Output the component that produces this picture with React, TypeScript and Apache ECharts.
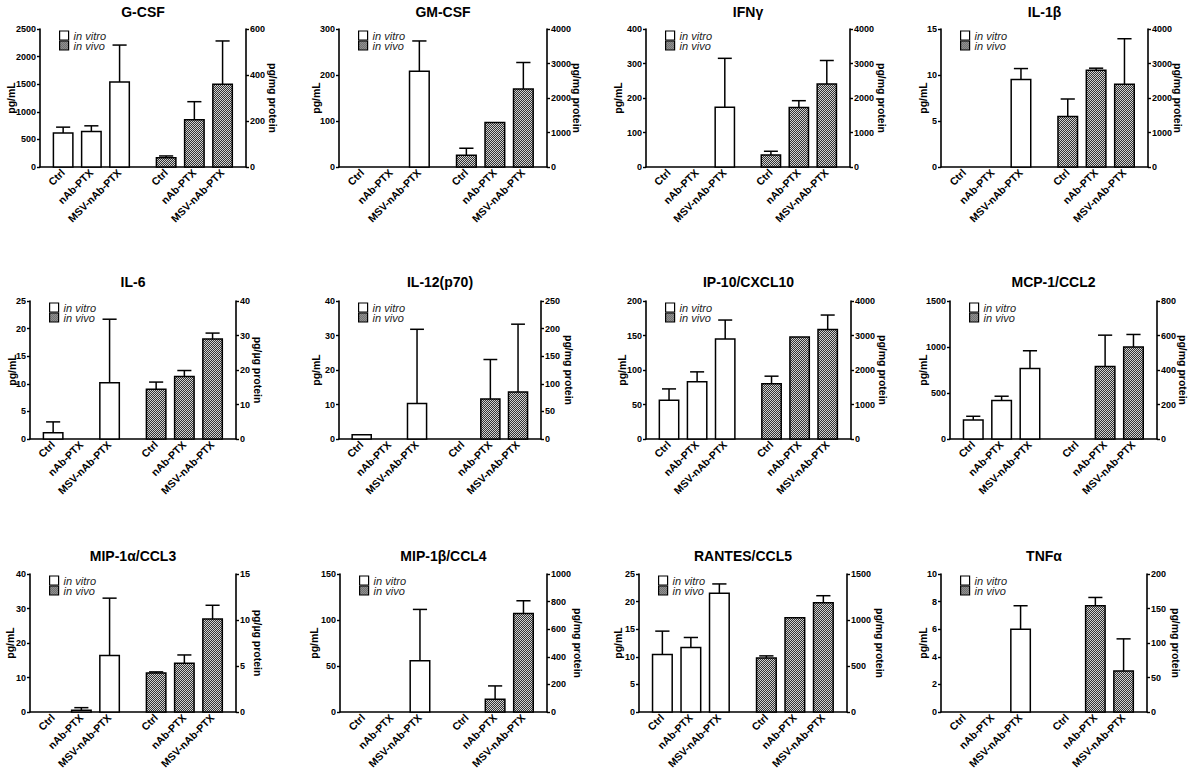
import React, { useEffect, useRef } from "react";
import * as echarts from "echarts";

// ---------------- data ----------------
const cytokines = [
  "G-CSF", "GM-CSF", "IFNγ", "IL-1β",
  "IL-6", "IL-12(p70)", "IP-10/CXCL10", "MCP-1/CCL2",
  "MIP-1α/CCL3", "MIP-1β/CCL4", "RANTES/CCL5", "TNFα",
];
const groups = ["Ctrl", "nAb-PTX", "MSV-nAb-PTX"];
const legendNames = ["in vitro", "in vivo"];

// in vitro (left axis, pg/mL): mean and mean+SD
const inVitroMean = [
  [615, 643, 1541], [0, 0, 208], [0, 0, 173], [0, 0, 9.5],
  [1.15, 0, 10.2], [1.2, 0, 10.3], [56, 83, 145], [207, 418, 766],
  [0, 0.5, 16.4], [0, 0, 55.6], [10.4, 11.7, 21.5], [0, 0, 6.0],
];
const inVitroUpper = [
  [722, 746, 2209], [0, 0, 274], [0, 0, 315], [0, 0, 10.7],
  [3.1, 0, 21.7], [1.2, 0, 31.8], [72.6, 97.3, 172.4], [247, 465, 959],
  [0, 1.26, 33], [0, 0, 111.5], [14.65, 13.5, 23.2], [0, 0, 7.7],
];
// in vivo (right axis, pg/mg or pg/µg protein): mean and mean+SD
const inVivoMean = [
  [40, 205, 360], [340, 1291, 2262], [350, 1728, 2408], [1466, 2806, 2398],
  [14.4, 18.1, 29.0], [0, 72.6, 85.3], [1598, 2954, 3177], [0, 420, 533],
  [4.25, 5.3, 10.1], [0, 92, 714], [588, 1024, 1188], [0, 154, 59.6],
];
const inVivoUpper = [
  [48, 284, 548], [544, 1311, 3029], [456, 1922, 3087], [1971, 2864, 3718],
  [16.5, 19.85, 30.7], [0, 144, 208], [1821, 2954, 3593], [0, 602, 606],
  [4.36, 6.2, 11.6], [0, 189, 806], [610, 1024, 1264], [0, 166, 106],
];

// axis scales
const leftMax = [2500, 300, 400, 15, 25, 40, 200, 1500, 40, 150, 25, 10];
const leftStep = [500, 100, 100, 5, 5, 10, 50, 500, 10, 50, 5, 2];
const rightMax = [600, 4000, 4000, 4000, 40, 250, 4000, 800, 15, 1000, 1500, 200];
const rightStep = [200, 1000, 1000, 1000, 10, 50, 1000, 200, 5, 200, 500, 50];
const leftUnit = "pg/mL";
const rightUnit = [
  "pg/mg protein", "pg/mg protein", "pg/mg protein", "pg/mg protein",
  "pg/µg protein", "pg/mg protein", "pg/mg protein", "pg/mg protein",
  "pg/µg protein", "pg/mg protein", "pg/mg protein", "pg/mg protein",
];

// category positions on the x scale
const xVitro = [0, 1, 2];
const xVivo = [3.65, 4.65, 5.65];
const X_MIN = -0.82;
const X_MAX = 6.48;

// ---------------- layout ----------------
const gridLeft = [40, 339, 646, 941, 30, 339, 646, 950, 30, 340, 639, 941];
const gridRight = [246, 547, 850, 1148, 236, 541, 851, 1157, 236, 547, 847, 1147];
const gridTop = [29, 29, 29, 29, 301, 301, 301, 301, 574, 574, 574, 574];
const GRID_H = 138;
const titleY = [12, 282, 556];
const leftNameOff = [30, 24, 29, 19, 19, 24, 25, 28, 21, 27, 22, 19];
const rightNameOff = [27, 30, 32, 30, 22, 28, 32, 26, 22, 31, 33, 29];

const FONT = "Arial, 'Liberation Sans', Helvetica, sans-serif";

function makeHatch(): any {
  const c = document.createElement("canvas");
  c.width = 2;
  c.height = 2;
  const ctx = c.getContext("2d")!;
  ctx.fillStyle = "#333333";
  ctx.fillRect(0, 0, 2, 2);
  ctx.fillStyle = "#d0d0d0";
  ctx.fillRect(0, 0, 1, 1);
  ctx.fillRect(1, 1, 1, 1);
  return { image: c, repeat: "repeat", imageWidth: 2, imageHeight: 2 };
}

function makeRender(fill: any) {
  return (_params: any, api: any) => {
    const x = api.value(0) as number;
    const v = api.value(1) as number;
    const up = api.value(2) as number;
    if (!(v > 0)) return null;
    const p0 = api.coord([x, 0]);
    const p1 = api.coord([x, v]);
    const p2 = api.coord([x, up]);
    const w = api.size([0.69, 0])[0];
    const cap = api.size([0.5, 0])[0];
    const children: any[] = [
      {
        type: "rect",
        shape: { x: p0[0] - w / 2, y: p1[1], width: w, height: p0[1] - p1[1] },
        style: { fill, stroke: "#000", lineWidth: 1.5 },
      },
    ];
    if (p1[1] - p2[1] > 0.8) {
      children.push({
        type: "line",
        shape: { x1: p0[0], y1: p1[1], x2: p0[0], y2: p2[1] },
        style: { stroke: "#000", lineWidth: 1.5 },
      });
      children.push({
        type: "line",
        shape: { x1: p0[0] - cap / 2, y1: p2[1], x2: p0[0] + cap / 2, y2: p2[1] },
        style: { stroke: "#000", lineWidth: 1.5 },
      });
    }
    return { type: "group", children };
  };
}

export default function App() {
  const ref = useRef<HTMLDivElement>(null);

  useEffect(() => {
    if (!ref.current) return;
    const chart = echarts.init(ref.current, undefined, { renderer: "svg" });
    const hatch = makeHatch();
    const xAll = [...xVitro, ...xVivo];

    const grid: any[] = [];
    const xAxis: any[] = [];
    const yAxis: any[] = [];
    const series: any[] = [];
    const legend: any[] = [];
    const title: any[] = [];

    const axisLineStyle = { color: "#000", width: 1.6 };

    cytokines.forEach((name, i) => {
      const width = gridRight[i] - gridLeft[i];
      grid.push({
        left: gridLeft[i],
        top: gridTop[i],
        width,
        height: GRID_H,
        containLabel: false,
        outerBoundsMode: "none",
      });
      title.push({
        text: name,
        left: gridLeft[i] + width / 2,
        top: titleY[Math.floor(i / 4)],
        textAlign: "center",
        textVerticalAlign: "middle",
        padding: 0,
        textStyle: { fontFamily: FONT, fontWeight: "bold", fontSize: 14, color: "#000" },
      });
      xAxis.push({
        type: "value",
        gridIndex: i,
        min: X_MIN,
        max: X_MAX,
        splitLine: { show: false },
        axisTick: { show: false },
        axisLine: { show: true, onZero: false, lineStyle: axisLineStyle },
        axisLabel: {
          customValues: xAll,
          rotate: 45,
          margin: 4,
          fontFamily: FONT,
          fontWeight: "bold",
          fontSize: 10.5,
          color: "#000",
          formatter: (val: number) => {
            let best = 0;
            xAll.forEach((p, k) => {
              if (Math.abs(p - val) < Math.abs(xAll[best] - val)) best = k;
            });
            return groups[best % 3];
          },
        },
      });
      const yCommon = {
        type: "value",
        gridIndex: i,
        min: 0,
        nameLocation: "middle",
        nameMoveOverlap: false,
        nameTextStyle: { fontFamily: FONT, fontWeight: "bold", fontSize: 10.5, color: "#000" },
        axisLine: { show: true, onZero: false, lineStyle: axisLineStyle },
        axisTick: { show: true, inside: false, length: 3, lineStyle: { color: "#000", width: 1.4 } },
        axisLabel: {
          fontFamily: FONT,
          fontWeight: "bold",
          fontSize: 9,
          color: "#000",
          margin: 4,
          formatter: (v: number) => String(v),
        },
        splitLine: { show: false },
      };
      yAxis.push({
        ...yCommon,
        position: "left",
        max: leftMax[i],
        interval: leftStep[i],
        name: leftUnit,
        nameRotate: 90,
        nameGap: leftNameOff[i] - 6,
      });
      yAxis.push({
        ...yCommon,
        position: "right",
        max: rightMax[i],
        interval: rightStep[i],
        name: rightUnit[i],
        nameRotate: -90,
        nameGap: rightNameOff[i] - 6,
      });
      series.push({
        type: "custom",
        name: legendNames[0],
        coordinateSystem: "cartesian2d",
        xAxisIndex: i,
        yAxisIndex: 2 * i,
        silent: true,
        clip: false,
        itemStyle: { color: "#fff", borderColor: "#000" },
        encode: { x: 0, y: 1 },
        data: xVitro.map((x, j) => [x, inVitroMean[i][j], inVitroUpper[i][j]]),
        renderItem: makeRender("#fff"),
      });
      series.push({
        type: "custom",
        name: legendNames[1],
        coordinateSystem: "cartesian2d",
        xAxisIndex: i,
        yAxisIndex: 2 * i + 1,
        silent: true,
        clip: false,
        itemStyle: { color: hatch, borderColor: "#000" },
        encode: { x: 0, y: 1 },
        data: xVivo.map((x, j) => [x, inVivoMean[i][j], inVivoUpper[i][j]]),
        renderItem: makeRender(hatch),
      });
      legend.push({
        left: gridLeft[i] + 19,
        top: gridTop[i] + 1,
        orient: "vertical",
        padding: 0,
        itemWidth: 9,
        itemHeight: 9,
        itemGap: -1,
        icon: "rect",
        selectedMode: false,
        textStyle: { fontFamily: FONT, fontStyle: "italic", fontSize: 11, color: "#222" },
        data: [
          { name: legendNames[0], itemStyle: { color: "#fff", borderColor: "#000", borderWidth: 1.2 } },
          { name: legendNames[1], itemStyle: { color: hatch, borderColor: "#000", borderWidth: 1.2 } },
        ],
      });
    });

    chart.setOption({
      animation: false,
      backgroundColor: "#fff",
      textStyle: { fontFamily: FONT },
      title,
      grid,
      xAxis,
      yAxis,
      legend,
      series,
    });

    return () => chart.dispose();
  }, []);

  return (
    <div
      ref={ref}
      style={{ position: "absolute", left: 0, top: 0, width: 1195, height: 777, background: "#fff" }}
    />
  );
}
